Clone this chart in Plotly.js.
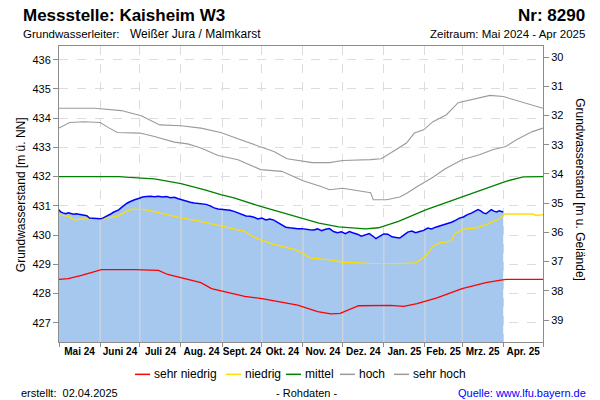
<!DOCTYPE html>
<html>
<head>
<meta charset="utf-8">
<script src="https://cdn.plot.ly/plotly-3.0.1.min.js"></script>
<style>html,body{margin:0;padding:0;background:#fff;} #chart{width:600px;height:400px;}</style>
</head>
<body>
<div id="chart"></div>
<script>
// ---- data (days counted from 2024-05-01) ----
const periodStart = '2024-05-01';
const periodEnd = '2025-05-01';
const monthStarts = ['2024-05-01','2024-06-01','2024-07-01','2024-08-01','2024-09-01','2024-10-01','2024-11-01','2024-12-01','2025-01-01','2025-02-01','2025-03-01','2025-04-01','2025-05-01'];
const monthLabels = ['Mai 24','Juni 24','Juli 24','Aug. 24','Sept. 24','Okt. 24','Nov. 24','Dez. 24','Jan. 25','Feb. 25','Mrz. 25','Apr. 25'];

const sehrHochDays = [0,27,47,62,76,92,107,122,137,152,162,172,184,191,204,214,235,243,254,262,268,275,282,292,301,307,315,325,335,345,355,365];
const sehrHochVals = [434.34,434.34,434.26,434.08,433.77,433.74,433.66,433.51,433.26,433.03,432.86,432.61,432.52,432.48,432.48,432.55,432.58,432.61,432.92,433.15,433.49,433.60,433.88,434.11,434.53,434.59,434.68,434.78,434.74,434.60,434.48,434.34];

const hochDays = [0,8,19,31,38,44,61,72,87,97,107,120,135,152,168,178,184,197,204,214,232,235,237,247,257,262,269,282,291,304,317,327,337,345,357,365];
const hochVals = [433.66,433.85,433.88,433.85,433.66,433.51,433.49,433.37,433.18,433.12,432.98,432.72,432.58,432.24,432.18,431.99,431.86,431.67,431.55,431.60,431.46,431.45,431.21,431.21,431.30,431.42,431.63,431.98,432.26,432.58,432.75,432.92,433.03,433.26,433.54,433.66];

const mittelDays = [0,20,45,62,72,92,110,122,132,152,172,184,196,211,231,241,256,277,302,322,337,350,365];
const mittelVals = [432.00,431.99,432.00,431.95,431.92,431.76,431.55,431.38,431.27,430.98,430.73,430.57,430.41,430.28,430.21,430.25,430.47,430.87,431.27,431.61,431.84,431.99,432.00];

const niedrigDays = [0,7,12,17,32,44,51,55,65,80,92,107,122,140,148,162,178,184,189,206,214,234,257,269,277,282,287,296,298,304,315,322,332,336,357,360,365];
const niedrigVals = [430.70,430.64,430.51,430.55,430.56,430.64,430.81,430.89,430.87,430.70,430.59,430.47,430.32,430.13,429.90,429.68,429.50,429.37,429.22,429.14,429.07,429.03,429.02,429.05,429.30,429.62,429.73,429.79,430.02,430.19,430.25,430.36,430.55,430.72,430.72,430.67,430.70];

const sehrNiedrigDays = [0,7,17,24,32,57,75,82,92,107,115,128,140,152,165,180,195,205,212,218,226,250,260,270,285,304,322,332,337,365];
const sehrNiedrigVals = [428.48,428.51,428.62,428.71,428.82,428.82,428.79,428.65,428.54,428.37,428.17,428.02,427.90,427.83,427.73,427.60,427.38,427.30,427.32,427.42,427.58,427.59,427.56,427.65,427.85,428.17,428.37,428.45,428.48,428.48];

const messDays = [0,1,3,5,7,9,11,13,15,17,19,21,23,25,27,29,31,33,35,37,39,41,43,45,47,49,51,53,55,57,60,63,66,69,72,75,78,81,84,87,90,93,96,99,102,105,108,111,114,117,120,123,126,129,132,135,138,141,144,147,150,153,156,159,162,165,168,171,174,177,180,183,186,189,192,195,198,201,204,207,210,213,216,219,222,225,228,231,234,237,239,242,245,248,251,254,257,260,263,266,269,272,275,278,281,284,287,290,293,296,299,302,305,308,311,314,316,318,320,322,324,326,328,330,332,334,335];
const messVals = [430.87,430.80,430.76,430.73,430.76,430.73,430.71,430.73,430.71,430.70,430.68,430.66,430.58,430.57,430.56,430.57,430.56,430.58,430.62,430.66,430.72,430.78,430.83,430.86,430.94,431.02,431.08,431.13,431.18,431.21,431.25,431.30,431.32,431.33,431.31,431.33,431.30,431.32,431.28,431.29,431.24,431.20,431.15,431.12,431.10,431.08,431.06,431.05,431.00,430.93,430.89,430.88,430.86,430.85,430.81,430.75,430.70,430.65,430.64,430.61,430.55,430.58,430.52,430.55,430.51,430.43,430.36,430.27,430.25,430.23,430.22,430.22,430.19,430.18,430.17,430.21,430.15,430.20,430.22,430.12,430.08,430.11,430.05,430.12,430.07,430.03,429.96,430.01,430.05,429.95,429.88,429.96,430.04,430.03,429.94,429.92,429.90,430.00,430.10,430.14,430.08,430.12,430.16,430.24,430.21,430.27,430.31,430.35,430.38,430.44,430.50,430.58,430.62,430.70,430.75,430.82,430.87,430.83,430.76,430.73,430.80,430.87,430.82,430.79,430.83,430.80,430.79];

const groundLevel = 466.09; // m ü. NN
const yRange = [426.34, 436.47];

const legendNames = ['sehr niedrig','niedrig','mittel','hoch','sehr hoch'];
const legendColors = ['#ff0000','#ffdd00','#008000','#9a9a9a','#9a9a9a'];

// ---- helpers ----
const START = Date.UTC(2024,4,1);
const toDate = d => new Date(START + d*86400000).toISOString().slice(0,10);
const dayOf = s => (Date.parse(s+'T00:00:00Z') - START)/86400000;
function interp(days, vals, d){
  for(let i=0;i<days.length-1;i++){
    if(d>=days[i] && d<=days[i+1]){
      const t=(d-days[i])/(days[i+1]-days[i]);
      return vals[i]+t*(vals[i+1]-vals[i]);
    }
  }
  return null;
}
const midMonths = monthLabels.map((_,i)=>{
  const a=Date.parse(monthStarts[i]+'T00:00:00Z'), b=Date.parse(monthStarts[i+1]+'T00:00:00Z');
  return new Date((a+b)/2).toISOString().slice(0,19).replace('T',' ');
});

// grid segments visible over the filled area
const gx=[], gy=[];
monthStarts.forEach(m=>{
  const d=dayOf(m);
  if(d>0 && d<messDays[messDays.length-1]){
    gx.push(m,m,null); gy.push(yRange[0], interp(messDays,messVals,d), null);
  }
});

// layout pixel helpers (plot area 59..543 x 46..341.7)
const L=59, R=543, T=46, B=341.7;
const px = X => (X-L)/(R-L);
const py = Y => (B-Y)/(B-T);

const FONT = 'Arial, "Liberation Sans", sans-serif';
const lineW = 1.3;

const series = [
  [sehrNiedrigDays, sehrNiedrigVals, lineW],
  [niedrigDays, niedrigVals, lineW],
  [mittelDays, mittelVals, lineW],
  [hochDays, hochVals, 1.1],
  [sehrHochDays, sehrHochVals, 1.1]
];

const traces = [
  {x: messDays.map(toDate), y: messVals, type:'scatter', mode:'lines', fill:'tozeroy', fillcolor:'#a6c8ef', line:{width:0, color:'#a6c8ef'}, showlegend:false, hoverinfo:'skip'},
  {x: gx, y: gy, type:'scatter', mode:'lines', line:{color:'#dadada', width:1}, showlegend:false, hoverinfo:'skip'}
];
series.forEach((s,i)=>traces.push({x:s[0].map(toDate), y:s[1], name:legendNames[i], type:'scatter', mode:'lines', line:{color:legendColors[i], width:s[2]}, showlegend:false}));
traces.push({x: messDays.map(toDate), y: messVals, type:'scatter', mode:'lines', line:{color:'#0000ff', width:1.5}, showlegend:false});
traces.push({x:[null], y:[null], yaxis:'y2', type:'scatter', mode:'lines', showlegend:false, hoverinfo:'skip'});

const ann = (text, X, Y, opts={}) => Object.assign({text, x:px(X), y:py(Y), xref:'paper', yref:'paper', showarrow:false, xanchor:'left', yanchor:'middle', font:{family:FONT, size:11, color:'#000'}}, opts);

// manual legend (swatch + label), matching the compact original legend
const legSwatchX = [135, 226, 286, 340, 394];
const legY = 374;
const legendShapes = legendNames.map((n,i)=>({type:'line', xref:'paper', yref:'paper', x0:px(legSwatchX[i]), x1:px(legSwatchX[i]+15), y0:py(legY), y1:py(legY), line:{color:legendColors[i], width:1.5}}));
const legendAnns = legendNames.map((n,i)=>ann(n, legSwatchX[i]+17, legY, {font:{family:FONT, size:12, color:'#000'}}));

const layout = {
  width:600, height:400,
  margin:{l:L, r:600-R, t:T, b:400-B},
  paper_bgcolor:'#fff', plot_bgcolor:'#fff',
  font:{family:FONT, size:11, color:'#000'},
  xaxis:{
    type:'date', range:[periodStart, periodEnd],
    tickmode:'array', tickvals: midMonths, ticktext: monthLabels,
    ticks:'', showgrid:false, tickfont:{family:FONT, size:10, color:'#000', weight:'bold'},
    showline:true, linecolor:'#8c8c8c', linewidth:1, mirror:true, zeroline:false,
    minor:{tick0:periodStart, dtick:'M1', ticks:'outside', ticklen:4, tickcolor:'#8c8c8c', showgrid:true, gridcolor:'#dcdcdc', griddash:'dash', gridwidth:1}
  },
  yaxis:{
    range:yRange, dtick:1, tick0:0, ticks:'outside', ticklen:5, tickcolor:'#8c8c8c',
    showgrid:true, gridcolor:'#dcdcdc', griddash:'dash', zeroline:false,
    showline:true, linecolor:'#8c8c8c', linewidth:1, tickfont:{family:FONT, size:11, color:'#000'}
  },
  yaxis2:{
    overlaying:'y', side:'right', range:[groundLevel-yRange[0], groundLevel-yRange[1]], dtick:1, tick0:0,
    ticks:'outside', ticklen:5, tickcolor:'#8c8c8c', showgrid:false, zeroline:false,
    showline:true, linecolor:'#8c8c8c', linewidth:1, tickfont:{family:FONT, size:11, color:'#000'}
  },
  showlegend:false,
  shapes: legendShapes,
  annotations:[
    ann('<b>Messstelle: Kaisheim W3</b>', 21, 16, {font:{family:FONT, size:17, color:'#000'}}),
    ann('<b>Nr: 8290</b>', 587, 16, {xanchor:'right', font:{family:FONT, size:17, color:'#000'}}),
    ann('Grundwasserleiter:', 21, 34, {font:{family:FONT, size:11.5, color:'#000'}}),
    ann('Weißer Jura / Malmkarst', 128, 34, {font:{family:FONT, size:12, color:'#000'}}),
    ann('Zeitraum: Mai 2024 - Apr 2025', 587, 34, {xanchor:'right', font:{family:FONT, size:11.5, color:'#000'}}),
    ann('Grundwasserstand [m ü. NN]', 21, 195, {xanchor:'center', textangle:-90, font:{family:FONT, size:12, color:'#000'}}),
    ann('Grundwasserstand [m u. Gelände]', 580, 189, {xanchor:'center', textangle:90, font:{family:FONT, size:12, color:'#000'}}),
    ann('erstellt:&nbsp;&nbsp;02.04.2025', 19, 393),
    ann('- Rohdaten -', 306, 393, {xanchor:'center'}),
    ann('Quelle: www.lfu.bayern.de', 588, 393, {xanchor:'right', font:{family:FONT, size:11, color:'#0000ff'}})
  ].concat(legendAnns)
};

Plotly.newPlot('chart', traces, layout, {staticPlot:true, displayModeBar:false});
</script>
</body>
</html>
